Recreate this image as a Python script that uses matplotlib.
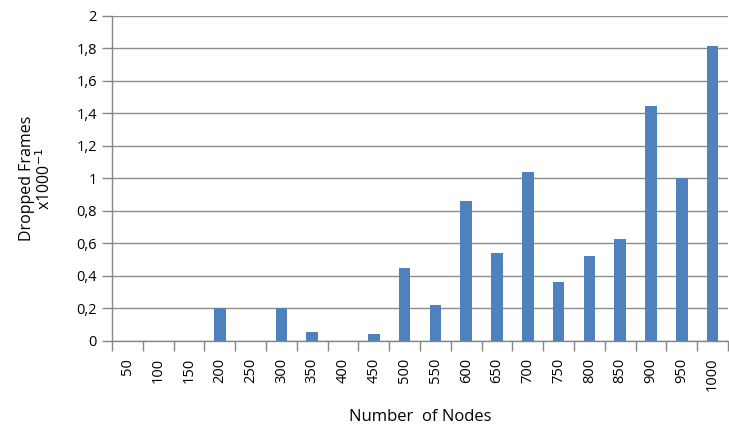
import matplotlib
matplotlib.use('Agg')
import matplotlib.pyplot as plt
from matplotlib.ticker import FuncFormatter, FixedLocator
import numpy as np

# Data
nodes = [50, 100, 150, 200, 250, 300, 350, 400, 450, 500,
         550, 600, 650, 700, 750, 800, 850, 900, 950, 1000]
dropped = [0, 0, 0, 0.20, 0, 0.20, 0.056, 0, 0.044, 0.45,
           0.22, 0.86, 0.54, 1.04, 0.36, 0.52, 0.63, 1.445, 1.0, 1.815]

plt.rcParams['font.family'] = ['Open Sans', 'DejaVu Sans']

fig = plt.figure(figsize=(7.29, 4.30), dpi=100)
ax = fig.add_axes([0.1536, 0.207, 0.845, 0.756])

x = np.arange(len(nodes))
ax.bar(x, dropped, width=0.38, color='#4f81bd', zorder=3)

ax.set_xlim(-0.5, len(nodes) - 0.5)
ax.set_ylim(0, 2)
ax.set_yticks(np.arange(0, 2.01, 0.2))
ax.yaxis.set_major_formatter(FuncFormatter(
    lambda v, p: ('%g' % round(v, 1)).replace('.', ',')))

# category labels in the middle, tick marks on the boundaries
ax.set_xticks(x)
ax.set_xticklabels([str(n) for n in nodes], rotation=90, fontsize=10.5)
ax.xaxis.set_minor_locator(FixedLocator(np.arange(-0.5, len(nodes), 1)))
ax.tick_params(axis='x', which='major', length=0, pad=12)
ax.tick_params(axis='x', which='minor', length=7, width=1, color='#868686')
ax.tick_params(axis='y', length=7, width=1, color='#868686', labelsize=10.5, pad=4)

ax.grid(axis='y', color='#8c8c8c', linewidth=1, zorder=0)
for side in ['top', 'right']:
    ax.spines[side].set_visible(False)
for side in ['left', 'bottom']:
    ax.spines[side].set_color('#868686')
    ax.spines[side].set_linewidth(1)
    ax.spines[side].set_zorder(4)

ax.set_ylabel('Dropped Frames\nx1000$^{-1}$', fontsize=11.5, linespacing=1.0, labelpad=16)
ax.set_xlabel('Number  of Nodes', fontsize=12, labelpad=13)

fig.savefig('out.png', dpi=100)
